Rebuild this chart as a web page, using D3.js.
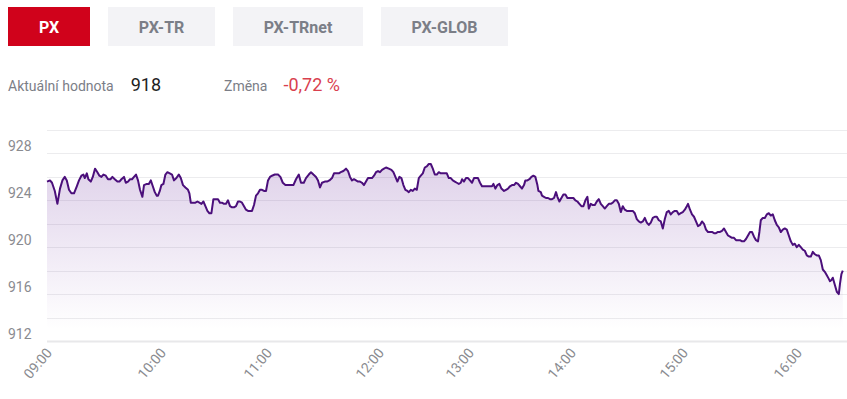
<!DOCTYPE html>
<html><head><meta charset="utf-8">
<script src="https://cdn.jsdelivr.net/npm/d3@7"></script>
<style>
html,body{margin:0;padding:0;background:#fff;}
svg{display:block;font-family:Roboto,"Noto Sans",sans-serif;}
</style>
</head><body>
<svg id="chart" width="847" height="399"></svg>
<script>
// ---- data ----
const tabs = ["PX", "PX-TR", "PX-TRnet", "PX-GLOB"];
const activeTab = "PX";
const currentLabel = "Aktuální hodnota";
const currentValue = "918";
const changeLabel = "Změna";
const changeValue = "-0,72 %";

const yLabels = [912, 916, 920, 924, 928];
const gridValues = [912, 914, 916, 918, 920, 922, 924, 926, 928, 930];

const hourLabels = ["09:00", "10:00", "11:00", "12:00", "13:00", "14:00", "15:00", "16:00"];
const hourSlots  = [0, 57, 110, 166, 211, 262, 318, 375];
const slotCount = 398;

const slots = [
0,1.5,2.5,3.9,5.2,6.5,7.7,8.9,9.9,11,12.2,13.5,14.9,16,17.2,18.2,18.9,19.9,20.7,21.9,22.9,24,25.2,26.2,27.2,28.2,29.4,30.5,31.7,32.7,33.9,35.2,36.2,37.2,38.5,39.4,40.5,41.5,42.5,43.5,44.5,45.5,46.5,47.7,48.5,49.9,50.9,51.9,52.9,53.9,54.9,55.5,
56.4,57.2,58.2,59.2,60.2,61.4,62.5,63.5,64.7,65.9,66.9,68,69.2,70.5,71.2,71.9,73,74.2,75.2,76.2,77.2,78.2,79.2,80.2,81.2,82.2,83.2,84.5,85.5,86.5,87.5,88.5,89.5,90.5,91.5,92.5,93.5,94.5,95.5,96.5,97.5,98.5,99.5,100.5,101.5,102.5,103.5,104.5,105.5,106.5,107.5,108.5,109.5,110.5,111.5,112.5,
113.9,115.5,116.7,117.9,119.2,120.5,121.9,123.2,124.5,125.9,127,128.4,129.5,130.9,132,133.2,134.5,135.5,136.5,137.5,138.9,140,141.2,142.5,143.5,144.7,145.9,146.9,148.2,149.5,150.5,151.5,152.5,153.5,154.5,155.5,156.5,157.5,158.5,159.5,160.5,161.5,162.5,163.5,164.5,165.5,166.5,167.5,168.5,169.5,
170.9,172.2,173.2,174.2,175.2,176.2,177.2,178.2,179.2,180.2,180.9,181.9,182.9,183.9,184.9,185.9,186.9,187.9,188.9,189.9,190.9,191.9,192.9,193.9,194.9,195.9,196.9,197.9,198.9,199.9,200.9,201.9,202.9,203.9,204.9,205.9,206.9,207.5,208.5,209.5,210.5,211.5,212.5,213.5,214.5,215.5,216.5,217.5,218.5,219.5,220.5,221.5,222.5,223.2,224.2,225.2,226.2,227.2,
228.5,229.5,230.5,231.5,232.5,233.5,234.5,235.5,236.5,237.5,238.5,239.2,240.2,241.2,242.2,243.2,244.2,245.2,245.7,246.9,247.5,248.5,249.5,250.5,251.5,252.5,253.5,254.5,255.2,256.2,257.2,258.2,259.2,260.2,261.2,262.2,263.2,264.2,265.2,266.2,267.2,268.2,269.2,270.2,270.9,271.9,272.9,273.9,274.9,275.9,276.9,277.9,278.9,279.9,280.9,281.9,282.9,283.9,
284.9,285.9,286.9,287.9,288.9,289.9,290.9,291.9,292.9,293.9,294.9,295.9,296.9,297.9,298.9,299.9,300.9,301.9,302.9,303.9,304.9,305.9,306.9,307.9,308.9,309.9,310.9,311.9,312.9,313.9,314.9,315.9,316.9,317.9,318.9,319.9,320.5,321.5,322.5,323.5,324.5,325.5,326.5,327.5,328.5,329.5,330.5,331.5,332.5,333.5,334.5,335.5,336.5,337.5,338.5,339.5,340.5,
341.5,342.5,343.5,344.5,345.5,346.5,347.5,348.5,349.5,350.5,351.5,352.5,353.5,354.5,355.5,356.2,356.9,357.9,358.9,359.9,360.9,361.9,362.9,363.9,364.9,365.9,366.9,367.9,368.9,369.9,370.9,371.9,372.9,373.9,374.9,375.9,376.9,377.9,378.9,379.9,380.9,381.9,382.9,383.9,384.9,385.9,386.9,387.9,388.9,389.9,390.9,391.5,392.2,392.9,393.9,394.9,395.9,396.5,397.2,397.9
];

const values = [
925.6,925.7,925.5,924.8,923.7,925.0,925.7,926.0,925.7,924.9,924.6,924.6,925.2,925.7,926.1,926.2,925.9,926.3,925.8,925.6,926.0,926.7,926.4,926.1,926.0,926.2,926.1,925.8,925.8,926.0,925.8,925.6,925.6,925.8,926.0,925.5,925.6,925.8,925.8,926.0,926.2,925.7,924.9,924.3,925.3,925.4,925.4,925.7,925.2,924.7,924.4,924.4,
924.8,925.3,925.4,926.2,926.4,926.3,926.2,925.7,925.9,926.2,925.9,925.3,925.1,924.9,924.6,923.8,923.8,923.8,923.9,923.8,923.7,923.9,923.5,923.1,922.9,922.9,924.1,924.1,924.1,923.8,923.8,923.7,923.7,924.0,923.5,923.4,923.4,923.5,923.9,923.9,923.8,923.5,923.2,923.1,923.1,923.1,923.6,924.4,924.6,924.9,924.9,924.8,924.8,925.7,926.0,926.1,
926.2,926.2,926.0,925.5,925.3,925.3,925.3,925.3,925.8,926.2,925.5,925.5,925.9,926.2,926.4,926.2,926.0,925.7,925.1,925.5,925.6,925.6,925.7,925.9,926.3,926.3,926.3,926.4,926.5,926.7,926.5,926.0,925.7,925.8,925.7,925.6,925.6,925.5,925.3,925.6,925.9,925.9,925.9,926.1,926.4,926.5,926.4,926.6,926.7,926.8,
926.7,926.6,926.4,926.0,925.6,926.0,925.9,925.3,924.9,924.8,924.7,924.9,924.8,925.0,924.9,925.9,926.1,926.3,926.8,926.9,927.1,927.1,926.7,926.2,926.2,926.4,926.3,926.3,926.3,926.3,925.9,925.9,925.7,925.6,925.5,925.4,925.5,925.8,925.6,925.9,925.9,925.7,925.5,925.9,925.9,925.9,925.5,925.2,925.2,925.2,925.2,925.2,925.2,925.4,925.0,925.3,925.4,925.0,
924.8,924.9,925.0,925.2,925.3,925.3,925.5,925.4,925.2,925.0,925.3,925.7,925.7,925.8,926.0,926.1,926.0,925.3,924.8,924.7,924.4,924.3,924.2,924.2,924.1,924.1,924.2,924.7,924.3,923.9,924.2,924.5,924.5,924.2,924.2,924.2,924.2,924.0,923.9,923.7,923.5,923.5,924.0,924.3,923.3,923.7,923.6,923.6,923.9,924.1,923.7,923.5,923.3,923.5,923.7,923.7,923.8,924.0,
924.0,923.7,923.0,923.5,923.2,923.1,923.1,923.1,923.1,922.9,922.4,922.2,922.1,922.2,922.5,922.1,921.9,922.1,922.5,922.6,922.6,922.3,922.2,921.6,922.4,923.0,923.1,922.8,923.0,923.1,923.1,922.8,922.9,923.0,923.2,923.5,923.7,923.2,922.8,922.6,922.2,921.8,921.9,922.2,922.0,921.5,921.3,921.3,921.3,921.2,921.2,921.3,921.3,921.4,921.6,921.3,921.0,
920.9,920.8,920.8,920.6,920.6,920.6,920.5,920.5,920.7,921.0,921.3,921.3,920.9,920.6,920.5,921.3,922.3,922.5,922.5,922.8,922.9,922.7,922.8,922.3,921.9,921.7,921.3,921.5,921.6,921.5,921.0,920.5,920.2,920.3,920.0,920.2,920.0,919.8,919.7,919.3,919.2,919.2,919.6,919.4,919.3,919.3,918.9,918.1,917.9,917.6,917.3,917.1,917.2,917.4,916.8,916.2,916.0,916.9,917.7,918.0
];

// ---- drawing ----
const svg = d3.select("#chart");
const W = 847;

// tabs
const tabG = svg.append("g");
let tx = 8;
tabs.forEach(name => {
  const active = name === activeTab;
  const g = tabG.append("g");
  const t = g.append("text")
    .attr("y", 33)
    .attr("font-size", 16).attr("font-weight", 700)
    .attr("fill", active ? "#ffffff" : "#7b7e87")
    .attr("text-anchor", "middle")
    .text(name);
  const tw = t.node().getComputedTextLength();
  const bw = Math.round(tw + 61.5);
  g.insert("rect", "text")
    .attr("x", tx).attr("y", 7).attr("width", bw).attr("height", 39)
    .attr("fill", active ? "#d0021b" : "#f3f3f6");
  t.attr("x", tx + bw / 2);
  tx += bw + 18;
});

// info row
const info = svg.append("g");
let ix = 8;
function addText(str, size, color, gapAfter) {
  const t = info.append("text").attr("x", ix).attr("y", 91)
    .attr("font-size", size).attr("fill", color).text(str);
  ix += t.node().getComputedTextLength() + gapAfter;
}
addText(currentLabel, 14, "#7b7e87", 17);
addText(currentValue, 18, "#1e1e1e", 65);
ix = 224;
addText(changeLabel, 14, "#7b7e87", 16);
addText(changeValue, 18, "#d9404e", 0);

// scales
const x = d3.scaleLinear().domain([0, slotCount]).range([47, 843]);
const y = d3.scaleLinear().domain([912, 930]).range([341, 130]);

// grid
svg.append("g").selectAll("line").data(gridValues).join("line")
  .attr("x1", 47).attr("x2", W)
  .attr("y1", d => Math.round(y(d)) + 0.5).attr("y2", d => Math.round(y(d)) + 0.5)
  .attr("stroke", d => d === 912 ? "#e8e8ea" : "#ececee")
  .attr("stroke-width", d => d === 912 ? 2 : 1);

// y labels
svg.append("g").selectAll("text").data(yLabels).join("text")
  .attr("x", 8).attr("y", d => y(d) - 2)
  .attr("font-size", 14).attr("fill", "#8a8b90")
  .text(d => d);

// gradient
const defs = svg.append("defs");
const grad = defs.append("linearGradient").attr("id", "fillGrad")
  .attr("gradientUnits", "userSpaceOnUse")
  .attr("x1", 0).attr("x2", 0).attr("y1", y(927.5)).attr("y2", y(913));
grad.append("stop").attr("offset", 0).attr("stop-color", "#6a2c9c").attr("stop-opacity", 0.22);
grad.append("stop").attr("offset", 1).attr("stop-color", "#6a2c9c").attr("stop-opacity", 0);

const data = slots.map((s, i) => ({ s, v: values[i] }));

const area = d3.area().x(d => x(d.s)).y0(y(912)).y1(d => y(d.v));
const line = d3.line().x(d => x(d.s)).y(d => y(d.v));

svg.append("path").datum(data).attr("d", area).attr("fill", "url(#fillGrad)");
svg.append("path").datum(data).attr("d", line)
  .attr("fill", "none").attr("stroke", "#4b0f7b").attr("stroke-width", 2)
  .attr("stroke-linejoin", "round");

// x labels
svg.append("g").selectAll("text").data(hourLabels).join("text")
  .attr("transform", (d, i) => `translate(${x(hourSlots[i]) + 2},${350}) rotate(-50)`)
  .attr("text-anchor", "end")
  .attr("dy", "0.35em")
  .attr("font-size", 14).attr("fill", "#8a8b90")
  .text(d => d);
</script>
</body></html>
